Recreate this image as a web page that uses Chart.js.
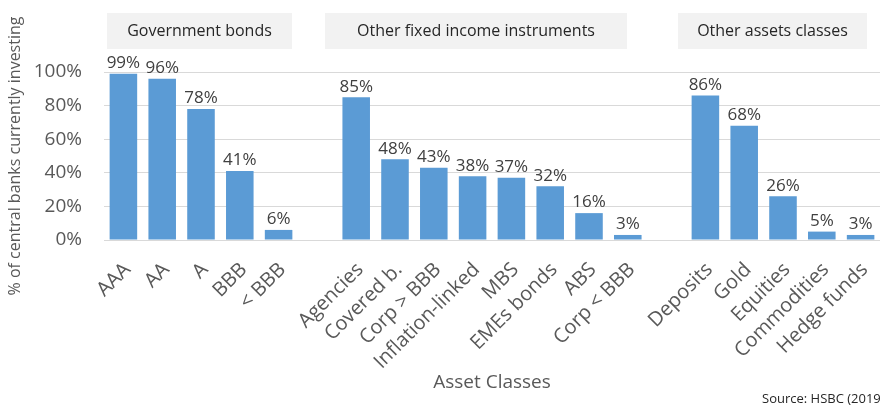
<!DOCTYPE html>
<html>
<head>
<meta charset="utf-8">
<script src="https://cdn.jsdelivr.net/npm/chart.js@4/dist/chart.umd.min.js"></script>
<style>
  html, body { margin: 0; padding: 0; background: #ffffff; }
  #wrap { width: 880px; height: 406px; position: relative; }
</style>
</head>
<body>
<div id="wrap"><canvas id="c" width="880" height="406"></canvas></div>
<script>
// ---- data ----
const categories = ['AAA', 'AA', 'A', 'BBB', '< BBB', '',
  'Agencies', 'Covered b.', 'Corp > BBB', 'Inflation-linked', 'MBS', 'EMEs bonds', 'ABS', 'Corp < BBB', '',
  'Deposits', 'Gold', 'Equities', 'Commodities', 'Hedge funds'];
const values = [99, 96, 78, 41, 6, null,
  85, 48, 43, 38, 37, 32, 16, 3, null,
  86, 68, 26, 5, 3];
const yTickValues = [0, 20, 40, 60, 80, 100];
const groupNames = ['Government bonds', 'Other fixed income instruments', 'Other assets classes'];
const yTitle = '% of central banks currently investing';
const xTitle = 'Asset Classes';
const sourceText = 'Source: HSBC (2019)';

const FONT = "'Open Sans', sans-serif";

// group header boxes (layout only)
const groupBoxes = [
  { x0: 107, x1: 292 },
  { x0: 325, x1: 627 },
  { x0: 678, x1: 867 }
];

const decorPlugin = {
  id: 'decor',
  beforeDraw(chart) {
    const ctx = chart.ctx;
    ctx.save();
    ctx.fillStyle = '#ffffff';
    ctx.fillRect(0, 0, chart.width, chart.height);
    ctx.restore();
  },
  afterDraw(chart) {
    const ctx = chart.ctx;
    ctx.save();
    groupBoxes.forEach((b, i) => {
      ctx.fillStyle = '#f2f2f2';
      ctx.fillRect(b.x0, 13, b.x1 - b.x0, 36);
      ctx.fillStyle = '#262626';
      ctx.font = "16px " + FONT;
      ctx.textAlign = 'center';
      ctx.textBaseline = 'middle';
      ctx.fillText(groupNames[i], (b.x0 + b.x1) / 2, 31);
    });
    ctx.fillStyle = '#262626';
    ctx.font = "13px " + FONT;
    ctx.textAlign = 'left';
    ctx.textBaseline = 'middle';
    ctx.fillText(sourceText, 762, 399);
    ctx.restore();
  },
  afterDatasetsDraw(chart) {
    const ctx = chart.ctx;
    const meta = chart.getDatasetMeta(0);
    ctx.save();
    ctx.fillStyle = '#404040';
    ctx.font = "17px " + FONT;
    ctx.textAlign = 'center';
    ctx.textBaseline = 'bottom';
    meta.data.forEach((el, i) => {
      const v = values[i];
      if (v === null || v === undefined) return;
      ctx.fillText(v + '%', el.x, el.y - 2);
    });
    ctx.restore();
  }
};

new Chart(document.getElementById('c'), {
  type: 'bar',
  data: {
    labels: categories,
    datasets: [{
      data: values,
      backgroundColor: '#5b9bd5',
      borderWidth: 0,
      barPercentage: 0.71,
      categoryPercentage: 1.0
    }]
  },
  options: {
    responsive: false,
    animation: false,
    devicePixelRatio: 1,
    layout: { padding: { top: 72, right: -3, bottom: 10, left: 0 } },
    plugins: {
      legend: { display: false },
      tooltip: { enabled: false }
    },
    scales: {
      x: {
        grid: { display: false, drawTicks: false },
        border: { display: true, color: '#d9d9d9', width: 1 },
        ticks: {
          autoSkip: false,
          minRotation: 45,
          maxRotation: 45,
          padding: 18,
          labelOffset: 4,
          color: '#595959',
          font: { family: FONT, size: 20 }
        },
        title: {
          display: true,
          text: xTitle,
          color: '#595959',
          font: { family: FONT, size: 19 },
          padding: { top: 0, bottom: 2 }
        },
        afterFit(s) {
          s.height = 156;
          s.paddingLeft = 0;
          s.paddingRight = 0;
        }
      },
      y: {
        min: 0,
        max: 100,
        afterBuildTicks(s) { s.ticks = yTickValues.map(v => ({ value: v })); },
        grid: { color: '#d9d9d9', lineWidth: 1, drawTicks: false },
        border: { display: false },
        ticks: {
          padding: 22,
          color: '#595959',
          font: { family: FONT, size: 19 },
          callback: v => v + '%'
        },
        title: {
          display: true,
          text: yTitle,
          color: '#595959',
          font: { family: FONT, size: 16 },
          padding: { top: 6, bottom: 0 }
        },
        afterFit(s) { s.width = 104; }
      }
    }
  },
  plugins: [decorPlugin]
});
</script>
</body>
</html>
